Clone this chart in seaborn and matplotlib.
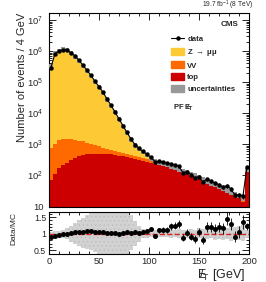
import matplotlib
matplotlib.use("Agg")
import matplotlib.pyplot as plt
import seaborn as sns
import pandas as pd
import numpy as np
from matplotlib.lines import Line2D
from matplotlib.patches import Patch
from matplotlib.ticker import MultipleLocator, LogLocator, FuncFormatter, NullFormatter

sns.set_theme(style="ticks")
plt.rcParams["font.family"] = ["Liberation Sans", "DejaVu Sans"]
plt.rcParams["mathtext.default"] = "regular"
plt.rcParams["hatch.linewidth"] = 0.5

# MET bins, 4 GeV wide, last bin holds the overflow
bin_width = 4
edges = np.arange(0, 201, bin_width)
centers = edges[:-1] + bin_width / 2

data = [295000, 832000, 1000000, 1120000, 1070000, 891000, 708000, 513000, 355000, 245000,
        166000, 107000, 72400, 47900, 28800, 18200, 11000, 6610, 3980, 2400,
        1480, 977, 741, 589, 479, 380, 275, 282, 263, 240,
        234, 209, 195, 120, 129, 105, 83, 91, 59, 76,
        66, 55, 50, 42, 46, 36, 23, 23, 22, 186]

z_mumu = [323000, 890000, 1046000, 1147000, 1070000, 870000, 675000, 489000, 330000, 228000,
          154000, 99100, 68300, 44900, 27300, 17100, 10300, 6050, 3370, 1830,
          990, 505, 330, 198, 113, 30, 23, 13, 11, 10,
          8, 7, 6, 6, 5, 6, 4, 4, 3, 2,
          2, 2, 2, 1, 1, 1, 1, 0.5, 0.5, 6]

vv = [688, 935, 1179, 1226, 1194, 1143, 1041, 891, 773, 643,
      533, 432, 350, 275, 234, 182, 146, 135, 118, 99,
      92, 86, 80, 75, 62, 50, 38, 30, 28, 26,
      21, 18, 16, 15, 14, 14, 11, 9, 8, 7,
      6, 5, 5, 4, 4, 3, 3, 2.5, 2.5, 22]

top = [71, 112, 170, 219, 251, 302, 372, 427, 457, 479,
       490, 501, 501, 501, 490, 479, 457, 427, 407, 380,
       355, 331, 309, 288, 269, 251, 234, 214, 195, 178,
       162, 145, 129, 117, 107, 95, 85, 74, 63, 54,
       47, 41, 35, 31, 27, 24, 21, 19, 14, 123]

ratio = [0.91, 0.93, 0.95, 0.98, 1.00, 1.02, 1.04, 1.05, 1.06, 1.07,
         1.07, 1.06, 1.05, 1.04, 1.03, 1.02, 1.01, 1.00, 1.02, 1.04,
         1.03, 1.06, 1.03, 1.05, 1.08, 1.14, 0.93, 1.10, 1.11, 1.12,
         1.22, 1.24, 1.28, 0.88, 1.03, 0.91, 0.84, 1.05, 0.80, 1.21,
         1.20, 1.14, 1.20, 1.16, 1.45, 1.30, 0.91, 1.05, 1.35, 1.22]

ratio_err = [0.01] * 20 + [0.02, 0.03, 0.04, 0.05, 0.06, 0.07, 0.07, 0.08, 0.08, 0.09,
                           0.10, 0.10, 0.12, 0.10, 0.11, 0.11, 0.12, 0.13, 0.12, 0.15,
                           0.15, 0.15, 0.16, 0.16, 0.20, 0.18, 0.16, 0.17, 0.22, 0.10]

band_up = [1.06, 1.07, 1.09, 1.12, 1.17, 1.24, 1.32, 1.40, 1.48, 1.56,
           1.63, 1.70, 1.75, 1.78, 1.80, 1.80, 1.80, 1.78, 1.74, 1.68,
           1.55, 1.38, 1.22, 1.15, 1.12, 1.10, 1.12, 1.09, 1.11, 1.10,
           1.13, 1.12, 1.14, 1.10, 1.12, 1.15, 1.12, 1.16, 1.13, 1.18,
           1.15, 1.20, 1.16, 1.22, 1.18, 1.24, 1.20, 1.22, 1.25, 1.12]
band_dn = [0.94, 0.93, 0.91, 0.88, 0.83, 0.76, 0.70, 0.64, 0.58, 0.54,
           0.50, 0.45, 0.40, 0.36, 0.33, 0.32, 0.32, 0.34, 0.36, 0.40,
           0.50, 0.62, 0.76, 0.86, 0.88, 0.90, 0.88, 0.91, 0.89, 0.90,
           0.88, 0.89, 0.86, 0.90, 0.88, 0.85, 0.88, 0.86, 0.87, 0.85,
           0.86, 0.82, 0.84, 0.80, 0.83, 0.78, 0.82, 0.80, 0.78, 0.88]
mc_unc = 0.15

processes = ["Z", "VV", "top"]
colors = {"Z": "#fdc934", "VV": "#ff6a00", "top": "#cc0000"}

df = pd.DataFrame({
    "met": np.tile(centers, 3),
    "events": np.concatenate([z_mumu, vv, top]),
    "process": np.repeat(processes, len(centers)),
})
mc_total = np.array(z_mumu) + np.array(vv) + np.array(top)

fig = plt.figure(figsize=(2.66, 2.82), dpi=100)
ax = fig.add_axes([0.184, 0.266, 0.752, 0.688])
rax = fig.add_axes([0.184, 0.099, 0.752, 0.149], sharex=ax)

sns.histplot(data=df, x="met", weights="events", hue="process", hue_order=processes,
             multiple="stack", bins=edges.tolist(), element="step", palette=colors,
             alpha=1, linewidth=0, legend=False, ax=ax)

hi = np.append(mc_total * (1 + mc_unc), mc_total[-1] * (1 + mc_unc))
lo = np.append(mc_total * (1 - mc_unc), mc_total[-1] * (1 - mc_unc))
ax.fill_between(edges, lo, hi, step="post", color="#999999", linewidth=0, zorder=3)

ax.errorbar(centers, data, yerr=np.sqrt(data), fmt="-o", color="black", ms=3.2, mew=0,
            lw=0.8, elinewidth=0.6, capsize=0, zorder=5)

ax.set_yscale("log")
ax.set_xlim(0, 200)
ax.set_ylim(9.5, 1.7e7)
ax.set_xlabel("")
ax.set_ylabel("Number of events / 4 GeV", fontsize=8, loc="top")
ax.yaxis.set_label_coords(-0.11, 1.0)
ax.yaxis.set_major_locator(LogLocator(base=10, numticks=10))
ax.yaxis.set_minor_locator(LogLocator(base=10, subs=np.arange(2, 10), numticks=20))
ax.yaxis.set_minor_formatter(NullFormatter())
ax.yaxis.set_major_formatter(FuncFormatter(
    lambda v, p: "10" if abs(v - 10) < 1e-6 else r"$10^{%d}$" % round(np.log10(v))))
ax.tick_params(axis="x", labelbottom=False)

# ratio panel
bu = np.append(band_up, band_up[-1])
bd = np.append(band_dn, band_dn[-1])
rax.fill_between(edges, bd, bu, step="post", facecolor="#d2d2d2", edgecolor="#bdbdbd",
                 hatch="....", linewidth=0, zorder=1)
rax.axhline(1, color="#dd2222", ls="--", lw=1, zorder=2)
rax.errorbar(centers, ratio, yerr=ratio_err, fmt="o", color="black", ms=3.6, mew=0,
             elinewidth=0.6, capsize=0, zorder=3)
rax.set_ylim(0.39, 1.65)
rax.set_xlim(0, 200)
rax.set_yticks([0.5, 1, 1.5])
rax.set_yticklabels(["0.5", "1", "1.5"])
rax.yaxis.set_minor_locator(MultipleLocator(0.1))
rax.set_ylabel("Data/MC", fontsize=6)
rax.yaxis.set_label_coords(-0.16, 0.6)
rax.set_xlabel(r"$E\!\!\!/_{T}$ [GeV]", fontsize=9, loc="right")
rax.xaxis.set_label_coords(0.98, -0.3)
rax.set_xticks([0, 50, 100, 150, 200])

for a in (ax, rax):
    a.xaxis.set_minor_locator(MultipleLocator(10))
    a.tick_params(which="both", direction="in", top=True, right=True, width=0.6,
                  labelsize=6.8, color="black")
    a.tick_params(which="major", length=5)
    a.tick_params(which="minor", length=2.5)
    for s in a.spines.values():
        s.set_linewidth(0.8)
        s.set_color("black")
ax.tick_params(axis="y", pad=4)
rax.tick_params(axis="y", pad=2, labelsize=6.3)
rax.tick_params(axis="x", pad=2)

handles = [
    Line2D([0], [0], color="black", marker="o", ms=3.2, mew=0, lw=0.8),
    Patch(color=colors["Z"]),
    Patch(color=colors["VV"]),
    Patch(color=colors["top"]),
    Patch(color="#999999"),
]
labels = ["data", r"Z $\rightarrow$ $\mu\mu$", "VV", "top", "uncertainties"]
leg = ax.legend(handles, labels, loc="upper left", bbox_to_anchor=(0.61, 0.885),
                frameon=False, fontsize=5.6, handlelength=1.7, handleheight=1.0,
                handletextpad=0.4, labelspacing=0.45, borderaxespad=0, borderpad=0)
for t in leg.get_texts():
    t.set_fontweight("bold")

ax.text(0.95, 0.94, "CMS", transform=ax.transAxes, ha="right", va="center",
        fontsize=5.8, fontweight="bold")
ax.text(0.62, 0.51, r"PF $E\!\!\!/_{T}$", transform=ax.transAxes, ha="left", va="center",
        fontsize=5.5, fontweight="bold")
fig.text(0.951, 0.98, r"19.7 fb$^{-1}$ (8 TeV)", ha="right", va="center", fontsize=4.8)

fig.savefig("out.png", dpi=100)
